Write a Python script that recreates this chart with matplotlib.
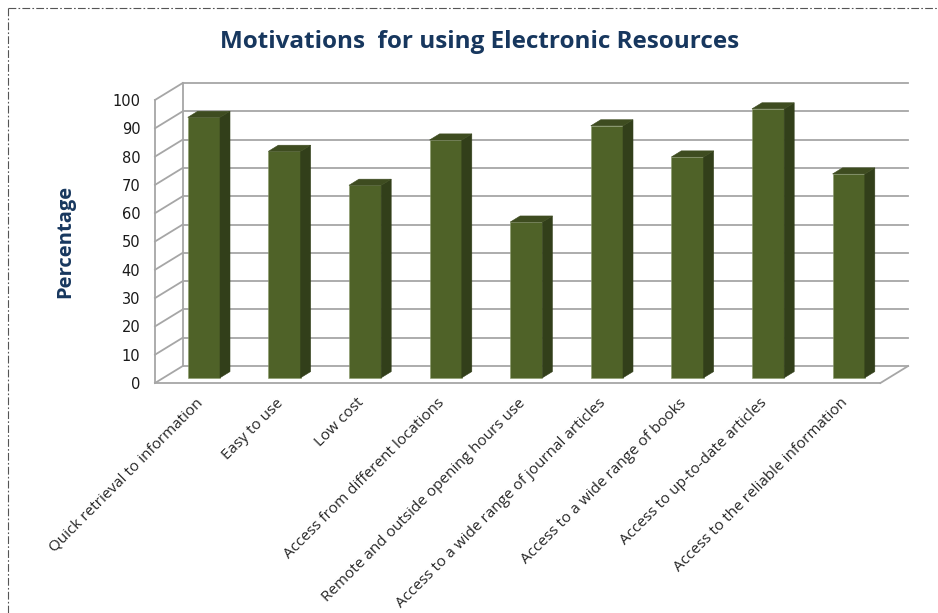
import matplotlib
matplotlib.use("Agg")
import matplotlib.pyplot as plt
from matplotlib.patches import Polygon
from matplotlib.lines import Line2D

categories = [
    "Quick retrieval to information",
    "Easy to use",
    "Low cost",
    "Access from different locations",
    "Remote and outside opening hours use",
    "Access to a wide range of journal articles",
    "Access to a wide range of books",
    "Access to up-to-date articles",
    "Access to the reliable information",
]
values = [92, 80, 68, 84, 55, 89, 78, 95, 72]
yticks = [0, 10, 20, 30, 40, 50, 60, 70, 80, 90, 100]

title = "Motivations  for using Electronic Resources"
ylabel = "Percentage"

# style / geometry
W, H = 938, 613
FRONT = "#4F6228"
SIDE = "#323F1A"
TOP = "#3E4C20"
GRID = "#A6A6A6"
DX, DY = 0.344, 6.0      # full-depth offset in data units
D0, D1 = 0.31, 0.67      # bar front / back depth fraction
BW = 0.40                # bar width (category units)

fig = plt.figure(figsize=(W / 100, H / 100), dpi=100)
ax = fig.add_axes([155 / W, (H - 383) / H, (907 - 155) / W, (383 - 83) / H])
n = len(categories)
ax.set_xlim(-0.5, -0.5 + (907 - 155) / 80.6)
ax.set_ylim(0, 106)
for s in ax.spines.values():
    s.set_visible(False)

x0, x1 = -0.5, n - 0.5
# back wall gridlines + left wall diagonals
for t in yticks:
    ax.plot([x0 + DX, x1 + DX], [t + DY, t + DY], color=GRID, lw=1.3, zorder=1, clip_on=False)
    ax.plot([x0, x0 + DX], [t, t + DY], color=GRID, lw=1.3, zorder=1, clip_on=False)
# left wall verticals
ax.plot([x0, x0], [0, yticks[-1]], color=GRID, lw=1.3, zorder=1, clip_on=False)
ax.plot([x0 + DX, x0 + DX], [DY, yticks[-1] + DY], color=GRID, lw=1.3, zorder=1, clip_on=False)
# floor front and right edges
ax.plot([x0, x1], [0, 0], color=GRID, lw=1.3, zorder=1, clip_on=False)
ax.plot([x1, x1 + DX], [0, DY], color=GRID, lw=1.3, zorder=1, clip_on=False)

# 3D bars
for i, v in enumerate(values):
    fx = i + D0 * DX
    fy = D0 * DY
    bx = i + D1 * DX
    by = D1 * DY
    l, r = fx - BW / 2, fx + BW / 2
    ddx, ddy = bx - fx, by - fy
    front = Polygon([(l, fy), (r, fy), (r, fy + v), (l, fy + v)], closed=True,
                    facecolor=FRONT, edgecolor="#8a9a6a", lw=0.4, zorder=3, clip_on=False)
    side = Polygon([(r, fy), (r + ddx, fy + ddy), (r + ddx, fy + ddy + v), (r, fy + v)], closed=True,
                   facecolor=SIDE, edgecolor=SIDE, lw=0.4, zorder=3, clip_on=False)
    top = Polygon([(l, fy + v), (r, fy + v), (r + ddx, fy + v + ddy), (l + ddx, fy + v + ddy)], closed=True,
                  facecolor=TOP, edgecolor=TOP, lw=0.4, zorder=3, clip_on=False)
    for p in (front, side, top):
        ax.add_patch(p)

ax.set_yticks(yticks)
ax.set_yticklabels([str(t) for t in yticks], fontsize=10.5, color="#1a1a1a", family="DejaVu Sans")
ax.tick_params(axis="y", length=0, pad=10.5)
ax.set_xticks(range(n))
ax.set_xticklabels(categories, rotation=45, ha="right", rotation_mode="anchor",
                   fontsize=11, family="Open Sans", color="#262626")
ax.tick_params(axis="x", length=0, pad=9)

fig.text(480 / W, 1 - 42 / H, title, ha="center", va="center", fontsize=17.5,
         fontweight="bold", family="Open Sans", color="#17375E")
fig.text(65 / W, 1 - 241 / H, ylabel, ha="center", va="center", rotation=90,
         fontsize=14.5, fontweight="bold", family="Open Sans", color="#17375E")

# dash-dot border
ls = (0, (7, 2, 1.5, 2))
fig.add_artist(Line2D([8 / W, 8 / W], [0, 1 - 8 / H], transform=fig.transFigure,
                      color="#555555", lw=0.8, linestyle=ls))
fig.add_artist(Line2D([8 / W, 1], [1 - 8 / H, 1 - 8 / H], transform=fig.transFigure,
                      color="#555555", lw=0.8, linestyle=ls))

fig.savefig("out.png", dpi=100)
